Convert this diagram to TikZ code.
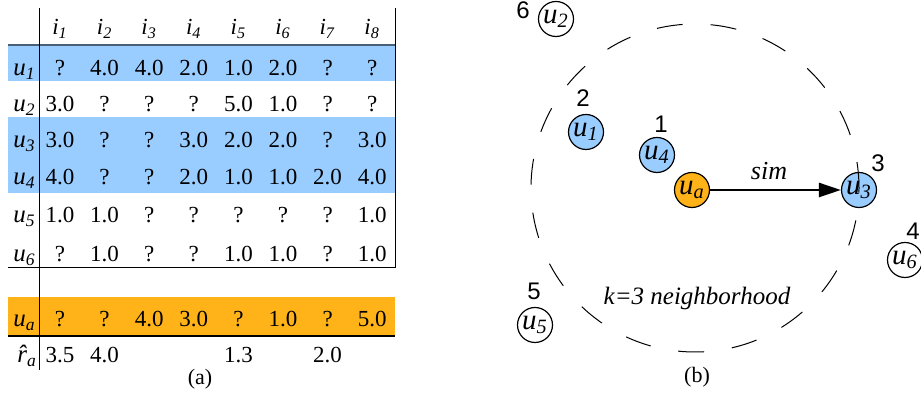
\documentclass[tikz,border=0pt]{standalone}
\usepackage{fontspec}
\setmainfont{Liberation Serif}
\newfontfamily\ranksans{Liberation Sans}
\usepackage{tikz}
\usetikzlibrary{arrows.meta}
\definecolor{rowblue}{RGB}{153,204,255}
\definecolor{roworange}{RGB}{255,179,25}
\definecolor{headline}{RGB}{74,96,121}
\newcommand{\usr}[1]{\textit{u}\textsubscript{\textit{#1}}}
\newcommand{\rhat}{{\ooalign{\textit{r}\cr\hidewidth\raisebox{0.02em}{\textit{\char"02C6}}\hidewidth\cr}}}
\tikzset{
  cell/.style={anchor=base, inner sep=0pt, font=\fontsize{11.5}{13}\selectfont},
  rowlab/.style={anchor=base west, inner sep=0pt, font=\fontsize{12.5}{14}\selectfont},
  user/.style={circle, draw, line width=0.6pt, minimum size=17.5pt, inner sep=0pt, font=\fontsize{14.5}{16}\selectfont},
  rank/.style={anchor=base, inner sep=0pt, font=\ranksans\fontsize{12}{14}\selectfont},
  caption/.style={anchor=base, inner sep=0pt, font=\fontsize{11}{13}\selectfont}
}

\begin{document}
\begin{tikzpicture}[x=0.5pt,y=-0.5pt]
\useasboundingbox (0,0) rectangle (921,399);
\fill[rowblue] (8,45) rectangle (395,81);
\fill[rowblue] (8,117) rectangle (395,193);
\fill[roworange] (8,297) rectangle (395,336);
\draw[headline, line width=1pt] (8,45) -- (395,45);
\draw[line width=0.5pt] (8,268) -- (395,268);
\draw[line width=0.6pt] (8,336) -- (395,336);
\draw[line width=0.5pt] (39,8) -- (39,370);
\draw[line width=0.5pt] (395,8) -- (395,268);
\foreach \c in {1,...,8}
  \node[cell] (head-\c) at ({60+44.6*(\c-1)},35) {\textit{i}\textsubscript{\textit{\c}}};
\foreach \r/\y/\vals in {1/76/{?,4.0,4.0,2.0,1.0,2.0,?,?},
                         2/112/{3.0,?,?,?,5.0,1.0,?,?},
                         3/148/{3.0,?,?,3.0,2.0,2.0,?,3.0},
                         4/185/{4.0,?,?,2.0,1.0,1.0,2.0,4.0},
                         5/223/{1.0,1.0,?,?,?,?,?,1.0},
                         6/262/{?,1.0,?,?,1.0,1.0,?,1.0},
                         a/327/{?,?,4.0,3.0,?,1.0,?,5.0}}{
  \node[rowlab] (lab-\r) at (13,\y) {\usr{\r}};
  \foreach \v [count=\c] in \vals
    \node[cell] (cell-\r-\c) at ({60+44.6*(\c-1)},\y) {\v};
}
\node[rowlab] (lab-hat) at (17,363) {\rhat\textsubscript{\textit{a}}};
\foreach \c/\v in {1/3.5,2/4.0,5/1.3,7/2.0}
  \node[cell] (hat-\c) at ({60+44.6*(\c-1)},363) {\v};
\node[caption] (capa) at (200,385) {(a)};

\node[user, fill=rowblue] (u1) at (586,132) {\usr{1}};
\node[user, fill=rowblue] (u4) at (657,155) {\usr{4}};
\node[user, fill=roworange] (ua) at (692,190) {\usr{a}};
\node[user, fill=rowblue] (u3) at (859,190) {\usr{3}};
\node[user] (u2) at (556,19) {\usr{2}};
\node[user] (u6) at (905,260) {\usr{6}};
\node[user] (u5) at (535,325) {\usr{5}};
\draw[line width=0.5pt, dash pattern=on 13pt off 14pt] (695,188) circle [radius=82pt];
\node[rank] (r6) at (523,19) {6};
\node[rank] (r2) at (583,107) {2};
\node[rank] (r1) at (661,133) {1};
\node[rank] (r3) at (878,172) {3};
\node[rank] (r4) at (913,240) {4};
\node[rank] (r5) at (534,300) {5};
\draw[line width=1.3pt, -{Triangle[length=11pt, width=7pt]}] (ua) -- (u3)
  node[pos=0.45, above=1pt, font=\fontsize{13}{15}\selectfont] (simlab) {\textit{sim}};
\node[anchor=base, inner sep=0pt, font=\fontsize{12.5}{14}\selectfont] (hood) at (697,305) {\textit{k=3 neighborhood}};
\node[caption] (capb) at (697,383) {(b)};
\end{tikzpicture}
\end{document}
